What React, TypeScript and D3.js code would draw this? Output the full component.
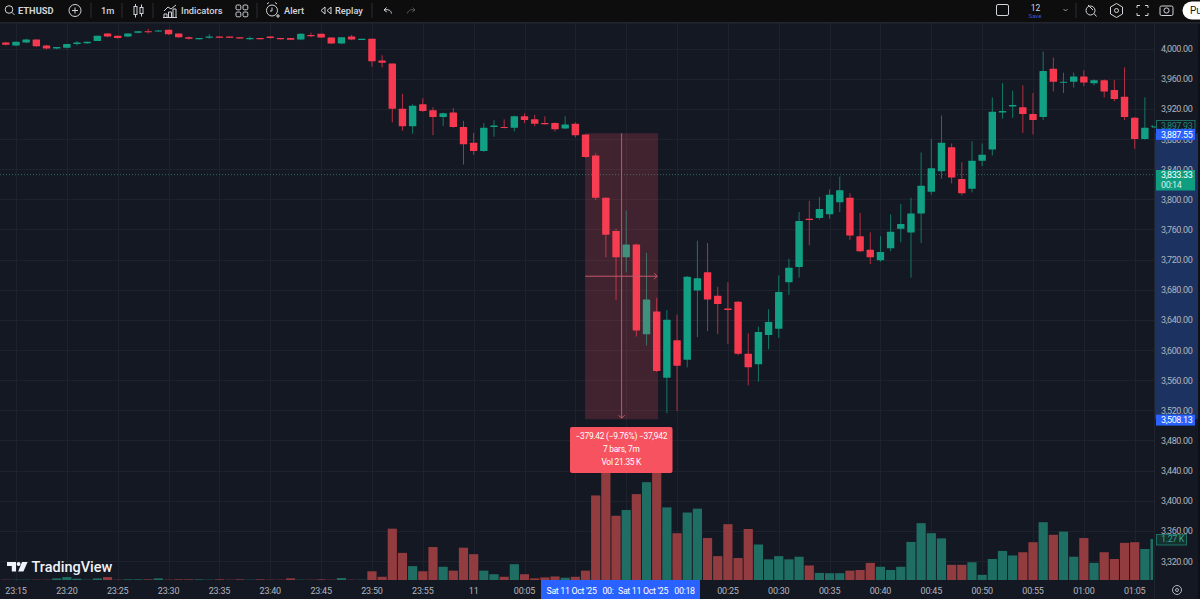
import React, { useEffect, useRef } from 'react';
import { select, scaleLinear, line, format } from 'd3';

// bar index -1 is the first candle on screen, 0 is 23:15, one bar per minute
const firstBar = -1;
const opens = [4008, 4004, 4008, 4012, 4004, 4000, 4001, 4006, 4007, 4010, 4020, 4017, 4016, 4021, 4023, 4023, 4025, 4020, 4015, 4013, 4014.5, 4016, 4016, 4015, 4013, 4014, 4016, 4014, 4014, 4012, 4018, 4019.5, 4014.6, 4006.6, 4016, 4011.5, 4013, 3984, 3980, 3920, 3897, 3926, 3918, 3909, 3915, 3896, 3875, 3864, 3896, 3896, 3895, 3910, 3906, 3901, 3901, 3894, 3900, 3886, 3858, 3802, 3758, 3723, 3740, 3621, 3651, 3563, 3613, 3587, 3679, 3703, 3672, 3655, 3664, 3595, 3581, 3620, 3628, 3690, 3710, 3774, 3775, 3780, 3796, 3802, 3751, 3733, 3719, 3735, 3761, 3756, 3781, 3810, 3837, 3869, 3827, 3814, 3851, 3866, 3915, 3923, 3922, 3913, 3909, 3973, 3955, 3956, 3963, 3954, 3958, 3945, 3936, 3908, 3880, 3896];
const highs = [4009, 4009, 4013, 4012, 4005, 4002, 4006, 4010, 4009, 4017, 4020, 4017, 4020, 4023, 4026, 4024, 4025, 4020, 4016, 4014, 4019, 4016, 4016, 4015, 4016, 4014, 4016, 4014, 4014, 4020, 4021, 4019.5, 4014.6, 4015, 4018, 4013, 4013, 3991, 3980, 3940, 3926, 3934, 3922, 3915, 3921, 3904, 3888, 3901, 3905, 3906, 3911, 3914, 3912, 3910, 3902, 3910, 3902, 3886, 3861, 3802, 3761, 3785, 3741, 3729, 3669, 3653, 3647, 3698, 3745, 3742, 3684, 3690, 3665, 3622, 3631, 3654, 3699, 3721, 3783, 3798, 3803, 3813, 3830, 3808, 3782, 3756, 3751, 3780, 3794, 3802, 3862, 3880, 3911, 3874, 3849, 3877, 3874, 3935, 3954, 3944, 3951, 3941, 3996, 3988, 3968, 3968, 3971, 3959, 3959, 3958, 3975, 3909, 3935, 3899];
const lows = [4004, 4003, 4007, 4002, 3999, 3999, 4000, 4004, 4006, 4010, 4015, 4013, 4015, 4020, 4020, 4022, 4018, 4014, 4012, 4012, 4013, 4014, 4014, 4013, 4011, 4012, 4013, 4012, 4011, 4011, 4015, 4014, 4006, 4006, 4011, 4011, 3976, 3975, 3902, 3891, 3887, 3916, 3885, 3897, 3895, 3846, 3859, 3863, 3883, 3894, 3890, 3901, 3897, 3899, 3890, 3893, 3882, 3855, 3799, 3723, 3666, 3703, 3618, 3606, 3571, 3516, 3519, 3577, 3617, 3625, 3621, 3608, 3593, 3553, 3558, 3601, 3616, 3673, 3696, 3739, 3773, 3774, 3783, 3746, 3730, 3714, 3717, 3731, 3743, 3696, 3742, 3806, 3827, 3821, 3805, 3809, 3844, 3858, 3907, 3908, 3888, 3886, 3905, 3943, 3941, 3948, 3950, 3951, 3935, 3930, 3905, 3867, 3879, 3895];
const closes = [4005, 4009, 4012, 4003, 4000, 4002, 4006, 4008, 4009, 4017, 4016, 4014, 4020, 4023, 4022, 4024, 4019, 4015, 4013, 4014, 4016, 4014.5, 4014.5, 4013.5, 4014, 4013, 4014, 4013, 4011.5, 4019.5, 4017, 4014.6, 4006.6, 4015, 4012, 4013, 3983, 3981, 3920, 3897, 3924, 3917, 3909, 3914, 3896, 3873, 3864, 3895, 3898, 3895, 3910, 3905, 3900, 3900, 3893, 3899, 3885, 3856, 3802, 3753, 3723, 3740, 3626, 3667, 3572, 3640, 3579, 3697, 3695, 3667, 3661, 3653, 3595, 3577, 3624, 3637, 3677, 3709, 3771, 3773, 3787, 3806, 3812, 3752, 3731, 3723, 3730, 3757, 3767, 3781, 3818, 3841, 3875, 3829, 3808, 3851, 3859, 3916, 3917, 3925, 3913, 3905, 3970, 3956, 3956, 3963, 3955, 3958, 3943, 3933, 3909, 3880, 3895, 3898];
const volumes = [0.01, 0.01, 0.01, 0.01, 0.01, 0.05, 0.09, 0.04, 0.01, 0.05, 0.09, 0.01, 0.02, 0.02, 0.02, 0.05, 0.01, 0.02, 0.02, 0.02, 0.01, 0.02, 0.01, 0.02, 0.01, 0.02, 0.01, 0.01, 0.05, 0.01, 0.01, 0.02, 0.01, 0.06, 0.01, 0.01, 0.27, 0.1, 1.59, 0.84, 0.43, 0.27, 1.02, 0.41, 0.29, 1.0, 0.8, 0.29, 0.18, 0.1, 0.49, 0.18, 0.05, 0.08, 0.11, 0.07, 0.1, 0.29, 2.62, 4.4, 1.99, 2.17, 2.66, 3.03, 4.4, 2.25, 1.45, 2.09, 2.21, 1.3, 0.74, 1.73, 0.68, 1.58, 1.1, 0.64, 0.74, 0.64, 0.72, 0.45, 0.22, 0.21, 0.21, 0.29, 0.31, 0.53, 0.41, 0.31, 0.41, 1.18, 1.76, 1.45, 1.29, 0.47, 0.47, 0.55, 0.16, 0.65, 0.9, 0.76, 0.86, 1.17, 1.79, 1.4, 1.5, 0.72, 1.3, 0.53, 0.86, 0.65, 1.15, 1.17, 0.96, 1.27];

const priceTicks = [4000, 3960, 3920, 3880, 3840, 3800, 3760, 3720, 3680, 3640, 3600, 3560, 3520, 3480, 3440, 3400, 3360, 3320];
const timeTicks = [0, 5, 10, 15, 20, 25, 30, 35, 40, 45, 50, 55, 60, 65, 70, 75, 80, 85, 90, 95, 100, 105, 110];
const timeLabels = ['23:15', '23:20', '23:25', '23:30', '23:35', '23:40', '23:45', '23:50', '23:55', '11', '00:05', '', '', '', '00:25', '00:30', '00:35', '00:40', '00:45', '00:50', '00:55', '01:00', '01:05'];
const crosshairLabels: [number, string][] = [[571.5, "Sat 11 Oct '25"], [608, '00:'], [643, "Sat 11 Oct '25"], [684.5, '00:18']];

// measure tool readings
const measureFrom = 3887.55;
const measureTo = 3508.13;
const measureStartBar = 56;
const measureEndBar = 63;
const measureLines = ['−379.42 (−9.76%) −37,942', '7 bars, 7m', 'Vol 21.35 K'];
const lastPrice = 3833.33;
const lastClose = 3897.93;

const W = 1200;
const H = 599;
const font = 'Roboto, "Liberation Sans", sans-serif';
const bg = '#141823';
const grid = '#1d222d';
const up = '#12a085';
const down = '#f7394f';
const upVol = '#1f6e64';
const downVol = '#933c40';
const axisText = '#b2b5be';
const plotRight = 1154;
const axisTop = 581;
const toolbarH = 23;

export default function App() {
  const svgRef = useRef<SVGSVGElement>(null);

  useEffect(() => {
    const svg = select(svgRef.current);
    svg.selectAll('*').remove();

    const x = scaleLinear().domain([0, 110]).range([16, 1134.7]);
    const y = scaleLinear().domain([4000, 3320]).range([48.5, 561]);
    const v = scaleLinear().domain([0, 1.27]).range([580, 539]);
    const bars = opens.map((o, i) => ({
      bar: firstBar + i,
      o,
      h: highs[i],
      l: lows[i],
      c: closes[i],
      vol: volumes[i],
    }));
    const bodyW = 7.4;
    const volW = 9.2;

    svg.append('rect').attr('width', W).attr('height', H).attr('fill', bg);

    // grid
    const gridG = svg.append('g').attr('stroke', grid).attr('stroke-width', 1);
    priceTicks.forEach((t) => {
      const py = Math.round(y(t)) + 0.5;
      gridG.append('line').attr('x1', 0).attr('x2', plotRight).attr('y1', py).attr('y2', py);
    });
    timeTicks.forEach((t) => {
      const px = Math.round(x(t)) + 0.5;
      gridG.append('line').attr('x1', px).attr('x2', px).attr('y1', toolbarH).attr('y2', axisTop);
    });

    // clip everything price related at the axis edge
    svg
      .append('clipPath')
      .attr('id', 'plot')
      .append('rect')
      .attr('x', 0)
      .attr('y', toolbarH)
      .attr('width', plotRight - 1)
      .attr('height', axisTop - toolbarH);
    const plot = svg.append('g').attr('clip-path', 'url(#plot)');

    // volume
    plot
      .append('g')
      .selectAll('rect')
      .data(bars)
      .enter()
      .append('rect')
      .attr('x', (d) => x(d.bar) - volW / 2)
      .attr('y', (d) => v(d.vol))
      .attr('width', volW)
      .attr('height', (d) => v(0) - v(d.vol))
      .attr('fill', (d) => (d.c >= d.o ? upVol : downVol));

    // last price dotted line
    plot
      .append('line')
      .attr('x1', 0)
      .attr('x2', plotRight)
      .attr('y1', y(lastPrice) + 0.5)
      .attr('y2', y(lastPrice) + 0.5)
      .attr('stroke', '#2f6a66')
      .attr('stroke-dasharray', '1 2');

    // candles
    const candles = plot
      .append('g')
      .selectAll('g')
      .data(bars)
      .enter()
      .append('g')
      .attr('fill', (d) => (d.c >= d.o ? up : down));
    candles
      .append('rect')
      .attr('x', (d) => x(d.bar) - 0.5)
      .attr('width', 1)
      .attr('y', (d) => y(d.h))
      .attr('height', (d) => y(d.l) - y(d.h))
      .attr('opacity', 0.7);
    candles
      .append('rect')
      .attr('x', (d) => x(d.bar) - bodyW / 2)
      .attr('width', bodyW)
      .attr('y', (d) => y(Math.max(d.o, d.c)))
      .attr('height', (d) => Math.max(1.2, Math.abs(y(d.o) - y(d.c))))
      .attr('rx', 0.5);

    // measure overlay
    const mx0 = x(measureStartBar) - 0.4;
    const mx1 = x(measureEndBar) + 1.4;
    const my0 = y(measureFrom);
    const my1 = y(measureTo);
    const mcx = (mx0 + mx1) / 2;
    const mcy = (my0 + my1) / 2;
    svg
      .append('rect')
      .attr('x', mx0)
      .attr('y', my0)
      .attr('width', mx1 - mx0)
      .attr('height', my1 - my0)
      .attr('fill', '#f7525f')
      .attr('opacity', 0.2);
    const arrow = line();
    const meas = svg.append('g').attr('stroke', '#c4586a').attr('fill', 'none').attr('stroke-width', 1);
    meas.append('path').attr('d', arrow([[mcx, my0], [mcx, my1 - 1]]));
    meas.append('path').attr('d', arrow([[mcx - 3, my1 - 4], [mcx, my1 - 1], [mcx + 3, my1 - 4]]));
    meas.append('path').attr('d', arrow([[mx0, mcy], [mx1 - 1, mcy]]));
    meas.append('path').attr('d', arrow([[mx1 - 4, mcy - 3], [mx1 - 1, mcy], [mx1 - 4, mcy + 3]]));

    // measure label
    svg.append('rect').attr('x', 570).attr('y', 427).attr('width', 102.5).attr('height', 46).attr('rx', 2).attr('fill', '#f7525f');
    measureLines.forEach((t, i) => {
      svg
        .append('text')
        .attr('x', 621.3)
        .attr('y', 439 + i * 13)
        .attr('text-anchor', 'middle')
        .attr('font-family', font)
        .attr('font-size', 8.4)
        .attr('letter-spacing', -0.25)
        .attr('fill', '#ffffff')
        .text(t);
    });

    // price scale
    svg.append('rect').attr('x', plotRight).attr('y', toolbarH).attr('width', W - plotRight).attr('height', H - toolbarH).attr('fill', bg);
    svg.append('rect').attr('x', 1198).attr('y', toolbarH).attr('width', 2).attr('height', H - toolbarH).attr('fill', '#0e1018');
    svg.append('rect').attr('x', plotRight + 1).attr('y', my0).attr('width', 1198 - plotRight - 1).attr('height', my1 - my0).attr('fill', '#1c3260');
    svg
      .append('line')
      .attr('x1', plotRight + 0.5)
      .attr('x2', plotRight + 0.5)
      .attr('y1', toolbarH)
      .attr('y2', H)
      .attr('stroke', '#20242e');
    const priceFmt = format(',.2f');
    const label = (g: any, tx: number, ty: number, txt: string, fill: string) =>
      g
        .append('text')
        .attr('x', tx)
        .attr('y', ty)
        .attr('font-family', font)
        .attr('font-size', 9)
        .attr('letter-spacing', -0.4)
        .attr('fill', fill)
        .text(txt);
    priceTicks.forEach((t) => label(svg, 1161, y(t) + 3.6, priceFmt(t), axisText));

    // tag of the close of the forming bar
    svg.append('rect').attr('x', 1156.5).attr('y', 120.5).attr('width', 38.5).attr('height', 11).attr('fill', bg).attr('stroke', '#1d6f63');
    label(svg, 1161, 128.8, priceFmt(lastClose), '#1d8a78');
    svg.append('rect').attr('x', 1152).attr('y', 126.5).attr('width', 4).attr('height', 1).attr('fill', up);

    svg.append('rect').attr('x', 1156).attr('y', my0 - 4.4).attr('width', 39).attr('height', 11).attr('fill', '#2962ff');
    label(svg, 1161, my0 + 4.3, priceFmt(measureFrom), '#ffffff');
    svg.append('rect').attr('x', 1156).attr('y', my1 - 4.6).attr('width', 39).attr('height', 11).attr('fill', '#2962ff');
    label(svg, 1161, my1 + 4, priceFmt(measureTo), '#ffffff');

    svg.append('rect').attr('x', 1156).attr('y', 170).attr('width', 39).attr('height', 20.5).attr('fill', '#0f9d80');
    label(svg, 1161, y(lastPrice) + 3.9, priceFmt(lastPrice), '#ffffff');
    label(svg, 1161, 187.6, '00:14', '#d8efe9');

    svg.append('rect').attr('x', 1156.5).attr('y', 534.5).attr('width', 30).attr('height', 10.5).attr('fill', '#12312f').attr('stroke', '#1f6e64');
    label(svg, 1161, v(1.27) + 3.2, '1.27 K', '#3aa08e');

    // time scale
    svg.append('rect').attr('x', 0).attr('y', axisTop).attr('width', plotRight).attr('height', H - axisTop).attr('fill', bg);
    svg.append('rect').attr('x', 541).attr('y', axisTop - 1).attr('width', 159).attr('height', H - axisTop + 1).attr('fill', '#2962ff');
    timeTicks.forEach((t, i) => {
      if (!timeLabels[i]) return;
      svg
        .append('text')
        .attr('x', x(t))
        .attr('y', 593.5)
        .attr('text-anchor', 'middle')
        .attr('font-family', font)
        .attr('font-size', 9)
        .attr('letter-spacing', -0.2)
        .attr('fill', axisText)
        .text(timeLabels[i]);
    });
    crosshairLabels.forEach(([tx, txt]) => {
      svg
        .append('text')
        .attr('x', tx)
        .attr('y', 593.5)
        .attr('text-anchor', 'middle')
        .attr('font-family', font)
        .attr('font-size', 8.8)
        .attr('letter-spacing', -0.3)
        .attr('fill', '#ffffff')
        .text(txt);
    });
    // settings gear at the corner
    svg.append('circle').attr('cx', 1177).attr('cy', 590).attr('r', 4.5).attr('fill', 'none').attr('stroke', axisText);
    svg.append('circle').attr('cx', 1177).attr('cy', 590).attr('r', 1.5).attr('fill', 'none').attr('stroke', axisText);

    // TradingView logo
    const logo = svg.append('g').attr('fill', '#f0f3fa');
    logo.append('path').attr('d', 'M7 562h9v9.5h-4.2v-5.6H7z');
    logo.append('circle').attr('cx', 18.6).attr('cy', 564).attr('r', 2);
    logo.append('path').attr('d', 'M22 562h5.6l-4.2 9.5h-5.2z');
    logo
      .append('text')
      .attr('x', 31.5)
      .attr('y', 571.5)
      .attr('font-family', font)
      .attr('font-size', 14.5)
      .attr('font-weight', 500)
      .text('TradingView');

    // toolbar
    const bar = svg.append('g');
    bar.append('rect').attr('width', W).attr('height', toolbarH).attr('fill', '#0d0d0d');
    bar.append('rect').attr('y', toolbarH - 1).attr('width', W).attr('height', 1.5).attr('fill', '#23262f');
    const ink = '#d1d4dc';
    const barText = (tx: number, t: string, weight = 400, size = 9.3) =>
      bar
        .append('text')
        .attr('x', tx)
        .attr('y', 13.5)
        .attr('font-family', font)
        .attr('font-size', size)
        .attr('font-weight', weight)
        .attr('fill', ink)
        .text(t);
    barText(18, 'ETHUSD', 700);
    barText(101, '1m', 500);
    barText(181, 'Indicators', 500);
    barText(284, 'Alert', 500);
    barText(335, 'Replay', 500);
    [91, 122, 153, 257, 372, 1076].forEach((sx) =>
      bar.append('line').attr('x1', sx).attr('x2', sx).attr('y1', 3).attr('y2', 18).attr('stroke', '#2a2e39'),
    );
    const icons = bar.append('g').attr('fill', 'none').attr('stroke', ink).attr('stroke-width', 1);
    // search
    icons.append('circle').attr('cx', 9).attr('cy', 9.5).attr('r', 3.8);
    icons.append('path').attr('d', 'M11.8 12.3l2.6 2.6');
    // add symbol
    icons.append('circle').attr('cx', 75).attr('cy', 10.5).attr('r', 6);
    icons.append('path').attr('d', 'M72 10.5h6M75 7.5v6');
    // candle style
    icons.append('rect').attr('x', 134).attr('y', 6.5).attr('width', 3).attr('height', 8);
    icons.append('rect').attr('x', 140).attr('y', 7.5).attr('width', 3).attr('height', 6);
    icons.append('path').attr('d', 'M135.5 4v2.5M135.5 14.5v3M141.5 4.5v3M141.5 13.5v3');
    // indicators
    icons.append('path').attr('d', 'M164 11l4-4 3 2 5-4M164 17v-3h3v3M168.5 17v-5h3v5M173 17v-8h3v8M163 17.5h14');
    // layouts
    [[236, 5], [243, 5], [236, 12], [243, 12]].forEach(([rx, ry]) =>
      icons.append('rect').attr('x', rx).attr('y', ry).attr('width', 4.8).attr('height', 4.8).attr('rx', 1.3),
    );
    // alert
    icons.append('circle').attr('cx', 272).attr('cy', 10.5).attr('r', 5.5);
    icons.append('path').attr('d', 'M272 7.5v3.5h-2M267 4l2-1.5M277 4l-2-1.5M276 16h4M278 14v4');
    // replay
    icons.append('path').attr('d', 'M325 7l-4 3.5 4 3.5zM331 7l-4 3.5 4 3.5z');
    // undo and redo
    icons.append('path').attr('d', 'M391.5 13.5c-.5-3-3-4.5-7-3.5M386.5 7.5l-2.5 2.5 2.8 2');
    icons.append('path').attr('d', 'M407.5 13.5c.5-3 3-4.5 7-3.5M412.5 7.5l2.5 2.5-2.8 2').attr('opacity', 0.35);
    // layout box and save
    icons.append('rect').attr('x', 996.5).attr('y', 4.5).attr('width', 12).attr('height', 11).attr('rx', 1.5);
    bar.append('text').attr('x', 1035.5).attr('y', 10.5).attr('text-anchor', 'middle').attr('font-family', font).attr('font-size', 8.5).attr('fill', ink).text('12');
    bar.append('text').attr('x', 1035).attr('y', 17.5).attr('text-anchor', 'middle').attr('font-family', font).attr('font-size', 6).attr('fill', '#3f55c8').text('Save');
    icons.append('path').attr('d', 'M1063.5 9l2 2 2-2').attr('opacity', 0.7);
    // right side buttons
    icons.append('circle').attr('cx', 1090.5).attr('cy', 10.5).attr('r', 4.5);
    icons.append('path').attr('d', 'M1088 5l5 5M1094 13.5l2.5 3');
    icons.append('path').attr('d', 'M1116.5 3.5l6 3.5v7l-6 3.5-6-3.5v-7z');
    icons.append('circle').attr('cx', 1116.5).attr('cy', 10.5).attr('r', 2);
    icons.append('path').attr('d', 'M1137 8V5.5h3M1145 5.5h3V8M1148 13v2.5h-3M1140 15.5h-3V13');
    icons.append('rect').attr('x', 1160).attr('y', 6).attr('width', 13).attr('height', 9.5).attr('rx', 1.5);
    icons.append('circle').attr('cx', 1166.5).attr('cy', 10.5).attr('r', 2.6);
    // publish button, cut off by the crop
    bar.append('rect').attr('x', 1182.5).attr('y', 1.5).attr('width', 40).attr('height', 18).attr('rx', 9).attr('fill', '#ffffff');
    bar.append('text').attr('x', 1190).attr('y', 14).attr('font-family', font).attr('font-size', 10).attr('fill', '#131722').text('Pu');
  }, []);

  return <svg ref={svgRef} width={W} height={H} style={{ position: 'absolute', left: 0, top: 0, display: 'block' }} />;
}
